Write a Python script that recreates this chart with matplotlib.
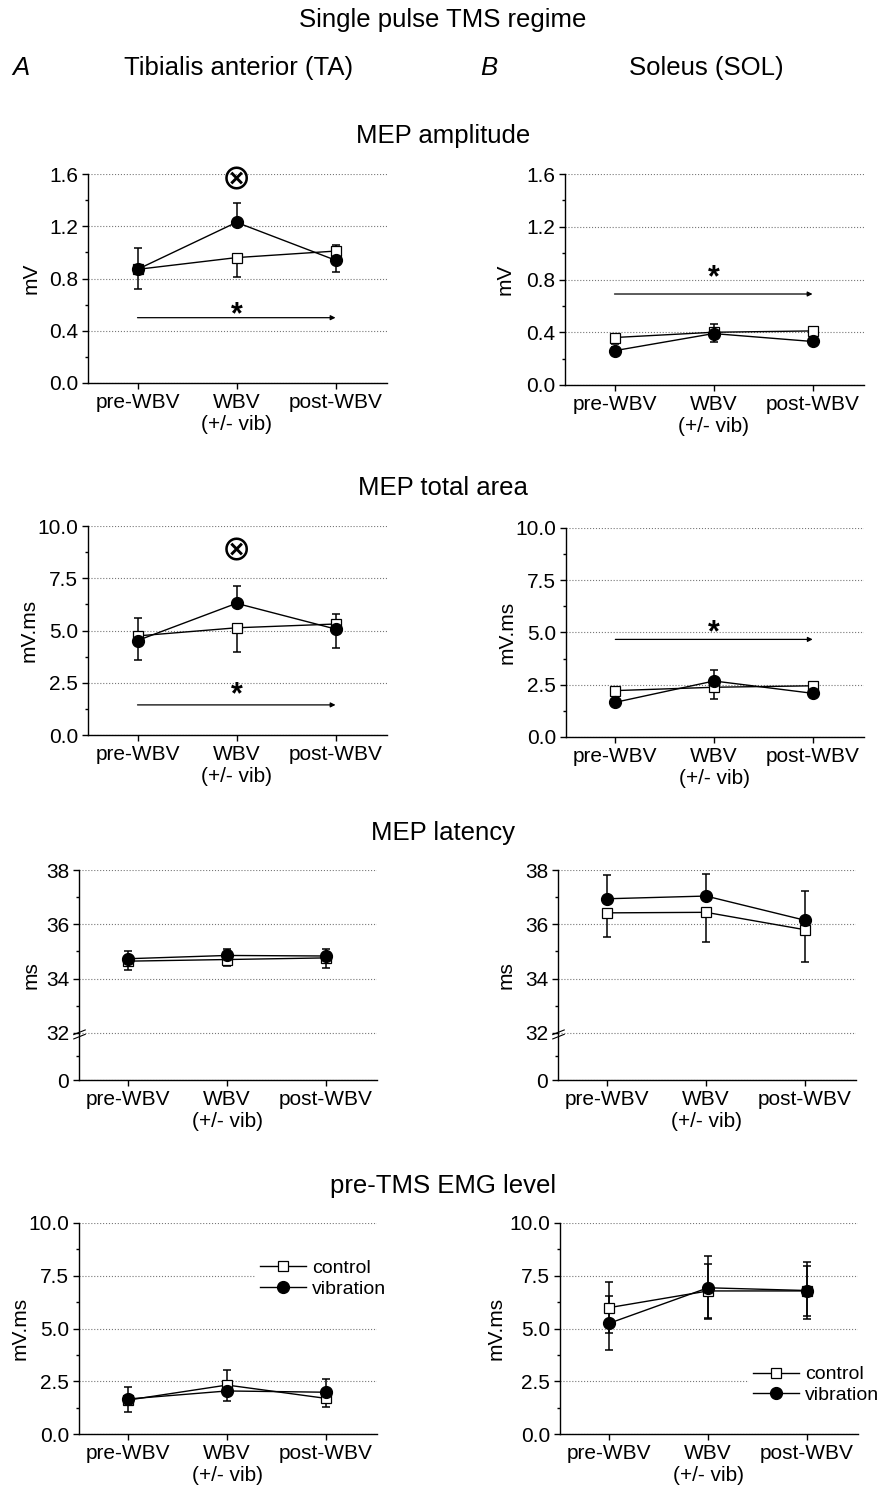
import matplotlib
matplotlib.use('Agg')
import matplotlib.pyplot as plt
import numpy as np
from matplotlib.path import Path

plt.rcParams['font.family'] = ['Liberation Sans', 'DejaVu Sans']

# Conditions (x axis)
conds = ['pre-WBV', 'WBV\n(+/- vib)', 'post-WBV']

# MEP amplitude (mV) - TA
amp_ta_ctrl = [0.87, 0.96, 1.01]
amp_ta_ctrl_err = ([0.15, 0.15, 0.0], [0.0, 0.0, 0.05])  # (down, up)
amp_ta_vib = [0.87, 1.23, 0.94]
amp_ta_vib_err = ([0.0, 0.0, 0.09], [0.16, 0.15, 0.0])
# MEP amplitude (mV) - SOL
amp_sol_ctrl = [0.36, 0.40, 0.41]
amp_sol_ctrl_err = ([0.05, 0.0, 0.0], [0.0, 0.06, 0.02])
amp_sol_vib = [0.26, 0.39, 0.33]
amp_sol_vib_err = ([0.0, 0.065, 0.0], [0.03, 0.0, 0.03])

# MEP total area (mV.ms) - TA
area_ta_ctrl = [4.74, 5.13, 5.31]
area_ta_ctrl_err = ([0.0, 1.14, 0.0], [0.85, 0.0, 0.5])
area_ta_vib = [4.52, 6.30, 5.07]
area_ta_vib_err = ([0.92, 0.0, 0.93], [0.0, 0.84, 0.0])
# MEP total area (mV.ms) - SOL
area_sol_ctrl = [2.22, 2.38, 2.45]
area_sol_ctrl_err = ([0.15, 0.55, 0.0], [0.0, 0.0, 0.1])
area_sol_vib = [1.66, 2.68, 2.09]
area_sol_vib_err = ([0.0, 0.0, 0.1], [0.15, 0.52, 0.0])

# MEP latency (ms) - TA
lat_ta_ctrl = [34.64, 34.70, 34.76]
lat_ta_ctrl_err = ([0.34, 0.25, 0.39], [0.0, 0.0, 0.0])
lat_ta_vib = [34.73, 34.85, 34.83]
lat_ta_vib_err = ([0.0, 0.0, 0.0], [0.27, 0.25, 0.27])
# MEP latency (ms) - SOL
lat_sol_ctrl = [36.42, 36.44, 35.80]
lat_sol_ctrl_err = ([0.9, 1.09, 1.2], [0.0, 0.0, 0.0])
lat_sol_vib = [36.94, 37.04, 36.15]
lat_sol_vib_err = ([0.0, 0.0, 0.0], [0.87, 0.81, 1.08])

# pre-TMS EMG level (mV.ms) - TA
emg_ta_ctrl = [1.61, 2.32, 1.69]
emg_ta_ctrl_err = ([0.55, 0.0, 0.40], [0.0, 0.71, 0.0])
emg_ta_vib = [1.66, 2.04, 1.98]
emg_ta_vib_err = ([0.0, 0.46, 0.0], [0.58, 0.0, 0.63])
# pre-TMS EMG level (mV.ms) - SOL
emg_sol_ctrl = [5.99, 6.78, 6.78]
emg_sol_ctrl_err = ([1.2, 1.28, 1.17], [1.2, 1.28, 1.17])
emg_sol_vib = [5.25, 6.93, 6.80]
emg_sol_vib_err = ([1.27, 1.5, 1.35], [1.27, 1.5, 1.35])

FS = 15
W, H = 887, 1492
fig = plt.figure(figsize=(W / 100, H / 100), dpi=100)


def px_axes(l, t, r, b):
    return fig.add_axes([l / W, 1 - b / H, (r - l) / W, (b - t) / H])


def draw(ax, ctrl, ctrl_err, vib, vib_err, legend=None):
    x = np.arange(3)
    for y, err in [(ctrl, ctrl_err), (vib, vib_err)]:
        ax.errorbar(x, y, yerr=[err[0], err[1]], fmt='none', ecolor='black',
                    elinewidth=1.1, capsize=3, capthick=1.1, zorder=3)
    ax.plot(x, ctrl, '-s', color='black', lw=1.0, ms=7, mfc='white',
            mec='black', mew=0.9, zorder=4, label='control')
    ax.plot(x, vib, '-o', color='black', lw=1.0, ms=8.5, mfc='black',
            mec='black', zorder=5, label='vibration')
    ax.set_xlim(-0.5, 2.52)
    ax.set_xticks(x)
    ax.set_xticklabels(conds)
    ax.spines['top'].set_visible(False)
    ax.spines['right'].set_visible(False)
    ax.spines['left'].set_linewidth(1.0)
    ax.spines['bottom'].set_linewidth(1.0)
    ax.tick_params(axis='both', which='major', direction='out', length=4,
                   width=1.0, labelsize=FS, pad=3)
    ax.tick_params(axis='y', which='minor', direction='out', length=2.5, width=1.0)
    ax.tick_params(axis='x', which='minor', length=0)
    ax.yaxis.grid(True, which='major', linestyle=':', color='#777777', lw=0.8)
    ax.set_axisbelow(True)
    if legend is not None:
        ax.legend(loc='upper left', bbox_to_anchor=legend, fontsize=14,
                  frameon=True, facecolor='white', edgecolor='none',
                  framealpha=1, handlelength=2.35, handletextpad=0.35,
                  labelspacing=0.15, borderpad=0.2, borderaxespad=0)


def ylab(ax, text, xpx, l, r):
    ax.set_ylabel(text, fontsize=FS, va='center')
    ax.yaxis.set_label_coords((xpx - l) / (r - l), 0.5)


def signif(ax, star_y, arrow_y):
    ax.annotate('', xy=(2, arrow_y), xytext=(0, arrow_y),
                arrowprops=dict(arrowstyle='-|>', lw=0.9, color='black',
                                mutation_scale=7, shrinkA=0, shrinkB=0))
    ax.annotate('*', xy=(1, star_y), xytext=(0, -11), textcoords='offset points',
                ha='center', va='baseline', fontsize=22, fontweight='bold')


def otimes(ax, y):
    ax.text(1, y, '\u2297', ha='center', va='center', fontsize=25,
            family='DejaVu Sans')


# ---- MEP amplitude ----
ax = px_axes(88, 174, 387, 383)
draw(ax, amp_ta_ctrl, amp_ta_ctrl_err, amp_ta_vib, amp_ta_vib_err)
ax.set_ylim(0, 1.6)
ax.set_yticks([0, 0.4, 0.8, 1.2, 1.6])
ax.set_yticks([0.2, 0.6, 1.0, 1.4], minor=True)
ax.set_yticklabels(['0.0', '0.4', '0.8', '1.2', '1.6'])
ylab(ax, 'mV', 31, 88, 387)
signif(ax, 0.574, 0.50)
otimes(ax, 1.56)

ax = px_axes(565, 174, 864, 385)
draw(ax, amp_sol_ctrl, amp_sol_ctrl_err, amp_sol_vib, amp_sol_vib_err)
ax.set_ylim(0, 1.6)
ax.set_yticks([0, 0.4, 0.8, 1.2, 1.6])
ax.set_yticks([0.2, 0.6, 1.0, 1.4], minor=True)
ax.set_yticklabels(['0.0', '0.4', '0.8', '1.2', '1.6'])
ylab(ax, 'mV', 505, 565, 864)
signif(ax, 0.867, 0.69)

# ---- MEP total area ----
area_ticks = [0, 2.5, 5.0, 7.5, 10.0]
area_minor = [1.25, 3.75, 6.25, 8.75]
area_labels = ['0.0', '2.5', '5.0', '7.5', '10.0']

ax = px_axes(88, 526, 387, 735)
draw(ax, area_ta_ctrl, area_ta_ctrl_err, area_ta_vib, area_ta_vib_err)
ax.set_ylim(0, 10)
ax.set_yticks(area_ticks)
ax.set_yticks(area_minor, minor=True)
ax.set_yticklabels(area_labels)
ylab(ax, 'mV.ms', 29, 88, 387)
signif(ax, 2.25, 1.44)
otimes(ax, 8.82)

ax = px_axes(566, 528, 864, 737)
draw(ax, area_sol_ctrl, area_sol_ctrl_err, area_sol_vib, area_sol_vib_err)
ax.set_ylim(0, 10)
ax.set_yticks(area_ticks)
ax.set_yticks(area_minor, minor=True)
ax.set_yticklabels(area_labels)
ylab(ax, 'mV.ms', 507, 566, 864)
signif(ax, 5.31, 4.67)

# ---- MEP latency (broken axis) ----
K = 47 / 27


def fwd(v):
    v = np.asarray(v, dtype=float)
    return np.where(v >= 32, v - 32 + K, v * K / 32)


def inv(u):
    u = np.asarray(u, dtype=float)
    return np.where(u >= K, u - K + 32, u * 32 / K)


brk = Path([(-1, -0.2), (1, 0.6), (-1, -0.9), (1, -0.1)],
           [Path.MOVETO, Path.LINETO, Path.MOVETO, Path.LINETO])

for (l, r), ctrl, ce, vib, ve, lx in [((79, 377), lat_ta_ctrl, lat_ta_ctrl_err, lat_ta_vib, lat_ta_vib_err, 31),
                                      ((558, 856), lat_sol_ctrl, lat_sol_ctrl_err, lat_sol_vib, lat_sol_vib_err, 506)]:
    ax = px_axes(l, 870, r, 1080)
    ax.set_yscale('function', functions=(fwd, inv))
    draw(ax, ctrl, ce, vib, ve)
    ax.set_ylim(0, 38)
    ax.set_yticks([0, 32, 34, 36, 38])
    ax.set_yticks([16, 33, 35, 37], minor=True)
    ax.set_yticklabels(['0', '32', '34', '36', '38'])
    ylab(ax, 'ms', lx, l, r)
    ax.plot([0], [32], marker=brk, ms=9, mew=0.8, color='black',
            transform=ax.get_yaxis_transform(), clip_on=False, zorder=6)

# ---- pre-TMS EMG level ----
ax = px_axes(79, 1223, 377, 1434)
draw(ax, emg_ta_ctrl, emg_ta_ctrl_err, emg_ta_vib, emg_ta_vib_err,
     legend=(0.594, 0.845))
ax.set_ylim(0, 10)
ax.set_yticks(area_ticks)
ax.set_yticks(area_minor, minor=True)
ax.set_yticklabels(area_labels)
ylab(ax, 'mV.ms', 20, 79, 377)

ax = px_axes(560, 1223, 858, 1434)
draw(ax, emg_sol_ctrl, emg_sol_ctrl_err, emg_sol_vib, emg_sol_vib_err,
     legend=(0.634, 0.342))
ax.set_ylim(0, 10)
ax.set_yticks(area_ticks)
ax.set_yticks(area_minor, minor=True)
ax.set_yticklabels(area_labels)
ylab(ax, 'mV.ms', 496, 560, 858)


# ---- Titles ----
def ftext(xpx, ypx, s, **kw):
    fig.text(xpx / W, 1 - ypx / H, s, ha='center', va='center', fontsize=18.5, **kw)


ftext(443, 20, 'Single pulse TMS regime')
ftext(21, 68, 'A', style='italic')
ftext(239, 68, 'Tibialis anterior (TA)')
ftext(489, 68, 'B', style='italic')
ftext(706, 68, 'Soleus (SOL)')
ftext(443, 136, 'MEP amplitude')
ftext(443, 488, 'MEP total area')
ftext(443, 833, 'MEP latency')
ftext(443, 1186, 'pre-TMS EMG level')

fig.savefig('out.png', dpi=100)
